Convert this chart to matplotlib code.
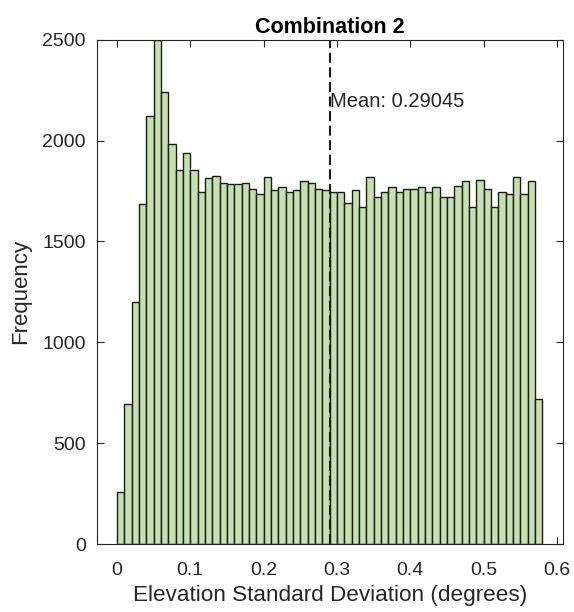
import matplotlib
matplotlib.use("Agg")
import matplotlib.pyplot as plt
import numpy as np

plt.rcParams['font.family'] = ['Liberation Sans', 'DejaVu Sans']

bin_width = 0.01
counts = [260, 696, 1200, 1685, 2122, 2500, 2240, 1985, 1855, 1938,
          1855, 1744, 1814, 1824, 1789, 1784, 1784, 1789, 1761, 1733,
          1822, 1754, 1768, 1744, 1754, 1799, 1791, 1761, 1754, 1744,
          1744, 1693, 1753, 1673, 1822, 1721, 1744, 1768, 1744, 1759,
          1759, 1768, 1744, 1768, 1721, 1721, 1777, 1799, 1673, 1806,
          1761, 1673, 1744, 1733, 1822, 1733, 1799, 719]
mean_value = 0.29045
title = "Combination 2"
xlabel = "Elevation Standard Deviation (degrees)"
ylabel = "Frequency"
xticks = [0, 0.1, 0.2, 0.3, 0.4, 0.5, 0.6]
yticks = [0, 500, 1000, 1500, 2000, 2500]

edges = np.arange(len(counts)) * bin_width

fig = plt.figure(figsize=(5.74, 6.12), dpi=100)
ax = fig.add_axes([0.169, 0.111, 0.812, 0.824])

ax.bar(edges, counts, width=bin_width, align='edge',
       color='#C6DFB0', edgecolor='#1a1a1a', linewidth=1.0)

ax.plot([mean_value, mean_value], [0, 2500], color='#1a1a1a',
        linestyle=(0, (4.8, 2.2)), linewidth=1.5)
ax.text(mean_value, 2192, "Mean: " + str(mean_value), fontsize=14.5,
        color='#262626', ha='left', va='center')

ax.set_xlim(-0.0272, 0.6085)
ax.set_ylim(0, 2500)
ax.set_xticks(xticks)
ax.set_xticklabels([f"{t:g}" for t in xticks])
ax.set_yticks(yticks)
ax.tick_params(direction='in', top=True, right=True, labelsize=14,
               colors='#262626', length=5, width=0.8)
ax.tick_params(axis='x', pad=13)
ax.tick_params(axis='y', pad=8)
for s in ax.spines.values():
    s.set_color('#262626')
    s.set_linewidth(0.8)

ax.set_title(title, fontsize=15.5, fontweight='bold', pad=5)
ax.set_xlabel(xlabel, fontsize=16.2, color='#262626', labelpad=4)
ax.set_ylabel(ylabel, fontsize=16, color='#262626', labelpad=8)

fig.savefig("out.png", dpi=100)
